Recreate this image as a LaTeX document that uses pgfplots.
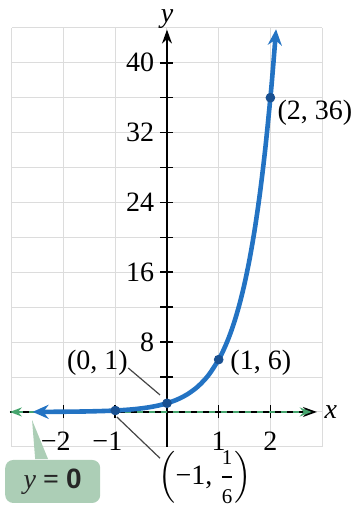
\documentclass[border=0pt]{standalone}
\usepackage{fontspec}
\setmainfont{Liberation Serif}
\setsansfont{Liberation Sans}
\usepackage{amsmath}
\usepackage{pgfplots}
\pgfplotsset{compat=1.18}
\usetikzlibrary{arrows.meta}

\definecolor{curveblue}{RGB}{35,115,195}
\definecolor{dotblue}{RGB}{25,80,145}
\definecolor{asymgreen}{RGB}{70,165,110}
\definecolor{boxgreen}{RGB}{172,206,182}
\definecolor{gridgray}{RGB}{220,220,220}
\definecolor{leader}{RGB}{70,70,70}

\newcommand{\fracdigit}[1]{\text{\fontsize{10.5}{11}\selectfont #1}}

\begin{document}
\fontsize{14}{16}\selectfont
\begin{tikzpicture}[font=\fontsize{14}{16}\selectfont]
\begin{axis}[
  set layers,
  x=25.85pt, y=4.365pt,
  xmin=-3.04, xmax=2.9, ymin=-4, ymax=43.8,
  axis lines=middle,
  axis line style={black, line width=0.8pt},
  every inner x axis line/.append style={-{Stealth[length=7pt,width=5pt]}},
  every inner y axis line/.append style={-{Stealth[length=7pt,width=5pt]}},
  clip=false,
  xtick={-2,-1,1,2},
  xticklabels={\llap{−}2,\llap{−}1,1,2},
  ytick={8,16,24,32,40},
  yticklabels={8,16,24,32,40},
  minor ytick={4,12,20,28,36},
  tick align=center,
  major tick length=6.5pt, minor tick length=6.5pt,
  tick style={black, line width=0.8pt},
  xticklabel style={anchor=north, inner sep=0pt, yshift=-6.5pt},
  yticklabel style={anchor=east, inner sep=0pt, xshift=-3pt},
]
% light grid: unit spacing in x, spacing 4 in y
\begin{pgfonlayer}{axis background}
\pgfplotsinvokeforeach{-3,-2,-1,0,1,2,3}{
  \draw[gridgray, line width=0.5pt] (axis cs:#1,-4) -- (axis cs:#1,44);
}
\pgfplotsinvokeforeach{-4,0,4,8,12,16,20,24,28,32,36,40,44}{
  \draw[gridgray, line width=0.5pt] (axis cs:-3,#1) -- (axis cs:3,#1);
}
\end{pgfonlayer}

% horizontal asymptote y = 0
\draw[asymgreen, line width=1pt, dashed,
  {Stealth[length=6pt,width=4.5pt]}-{Stealth[length=6pt,width=4.5pt]}]
  (axis cs:-3.04,0) -- (axis cs:2.8,0);

% y = 6^x
\addplot[curveblue, line width=2.3pt, smooth,
  {Stealth[length=8pt,width=7pt]}-{Stealth[length=8pt,width=7pt]}]
  coordinates {
  (-2.6,0.0095) (-2.2,0.0194) (-1.8,0.0397) (-1.5,0.0680) (-1.2,0.1165)
  (-1.0,0.1667) (-0.8,0.2385) (-0.6,0.3413) (-0.4,0.4884) (-0.2,0.6988)
  (0,1) (0.2,1.431) (0.4,2.048) (0.6,2.930) (0.8,4.193) (1.0,6)
  (1.1,7.178) (1.2,8.586) (1.3,10.27) (1.4,12.29) (1.5,14.70) (1.6,17.58)
  (1.7,21.03) (1.8,25.16) (1.9,30.10) (2.0,36) (2.05,39.37) (2.11,43.84)
  };

% labelled points
\addplot[only marks, mark=*, mark size=2.2pt, dotblue]
  coordinates {(-1,0.1667) (0,1) (1,6) (2,36)};

\node[anchor=west, inner sep=0pt] at (axis cs:2.13,34.25) {(2, 36)};
\node[anchor=west, inner sep=0pt] at (axis cs:1.22,5.6) {(1, 6)};
\node[anchor=east, inner sep=0pt] at (axis cs:-0.75,5.6) {(0, 1)};
\node[inner sep=0pt] at (axis cs:0.74,-7.5)
  {$\Bigl(\text{−1, }\dfrac{\fracdigit{1}}{\fracdigit{6}}\Bigr)$};

\draw[leader, line width=0.6pt] (axis cs:-0.75,5.04) -- (axis cs:-0.135,1.95);
\draw[leader, line width=0.6pt] (axis cs:-0.97,-0.57) -- (axis cs:-0.135,-5.3);

% callout for the asymptote
\fill[boxgreen] (axis cs:-2.55,-5.4) -- (axis cs:-2.61,-0.92)
  -- (axis cs:-2.30,-5.4) -- cycle;
\node[fill=boxgreen, rounded corners=4pt, minimum width=47.5pt,
  minimum height=21.5pt, inner sep=0pt, text={black!85}]
  at (axis cs:-2.21,-7.96) {\textit{y} \textbf{=} \textsf{\bfseries 0}};

% axis names
\node[anchor=west, inner sep=0pt] at (axis cs:3.04,0) {\textit{x}};
\node[inner sep=0pt] at (axis cs:0,45.0) {\textit{y}};

\coordinate (bl) at (axis cs:-3.230,-11.0);
\coordinate (tr) at (axis cs:3.559,47.19);
\end{axis}
\pgfresetboundingbox
\path[use as bounding box] (bl) rectangle (tr);
\end{tikzpicture}
\end{document}
